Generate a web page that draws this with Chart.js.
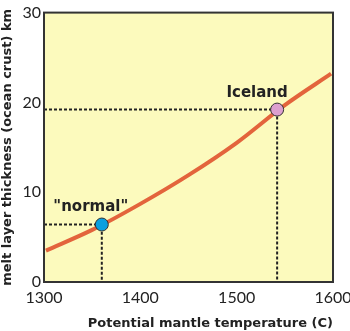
<!DOCTYPE html>
<html>
<head>
  <title>Melt thickness vs mantle temperature</title>
  <script src="https://cdn.jsdelivr.net/npm/chart.js@4.4.1/dist/chart.umd.min.js"></script>
  <style>
    * { margin: 0; padding: 0; box-sizing: border-box; }
    body { background: #ffffff; width: 350px; height: 331px; overflow: hidden; }
    .wrap { position: relative; width: 350px; height: 331px; }
  </style>
</head>
<body>
<div class="wrap">
  <canvas id="meltChart" width="350" height="331"></canvas>
</div>

<script>
  // curve: potential mantle temperature (C) vs melt thickness (km)
  const temps = [1302, 1350, 1400, 1450, 1500, 1550, 1598];
  const thickness = [3.5, 5.8, 8.7, 11.9, 15.5, 19.7, 23.2];

  // highlighted cases
  const caseNames = ['"normal"', 'Iceland'];
  const caseTemps = [1360, 1542];
  const caseThick = [6.4, 19.2];
  const caseColors = ['#0a9fe0', '#dc9fcf'];

  const xTicks = [1300, 1400, 1500, 1600];
  const yTicks = [0, 10, 20, 30];

  const FONT = 'Lato, "DejaVu Sans", sans-serif';
  const TITLE_FONT = '"DejaVu Sans", sans-serif';

  // dotted guide lines from the axes to each case
  const guideSets = caseNames.map((name, i) => ({
    type: 'line',
    order: 3,
    data: [
      { x: xTicks[0], y: caseThick[i] },
      { x: caseTemps[i], y: caseThick[i] },
      { x: caseTemps[i], y: yTicks[0] }
    ],
    borderColor: '#222',
    borderWidth: 2,
    borderDash: [3, 2],
    pointRadius: 0,
    fill: false,
    tension: 0
  }));

  const plotBackground = {
    id: 'plotBackground',
    beforeDraw(chart) {
      const { ctx, chartArea: a } = chart;
      ctx.save();
      ctx.fillStyle = '#fcfabd';
      ctx.fillRect(a.left, a.top, a.right - a.left, a.bottom - a.top);
      ctx.restore();
    },
    afterDraw(chart) {
      const { ctx, chartArea: a } = chart;
      ctx.save();
      ctx.strokeStyle = '#333';
      ctx.lineWidth = 2;
      ctx.strokeRect(a.left, a.top, a.right - a.left, a.bottom - a.top);
      ctx.restore();
    }
  };

  const caseLabels = {
    id: 'caseLabels',
    afterDatasetsDraw(chart) {
      const { ctx, scales } = chart;
      ctx.save();
      ctx.fillStyle = '#222';
      ctx.font = 'bold 15px ' + TITLE_FONT;
      ctx.textAlign = 'center';
      ctx.textBaseline = 'middle';
      const offs = [[-11, -17], [-20, -16]];
      caseNames.forEach((name, i) => {
        const px = scales.x.getPixelForValue(caseTemps[i]);
        const py = scales.y.getPixelForValue(caseThick[i]);
        ctx.fillText(name, px + offs[i][0], py + offs[i][1]);
      });
      ctx.restore();
    }
  };

  new Chart(document.getElementById('meltChart'), {
    type: 'line',
    data: {
      datasets: [
        ...guideSets,
        {
          type: 'line',
          order: 2,
          data: temps.map((t, i) => ({ x: t, y: thickness[i] })),
          borderColor: '#e3643c',
          borderWidth: 4,
          pointRadius: 0,
          cubicInterpolationMode: 'monotone',
          fill: false
        },
        {
          type: 'scatter',
          order: 1,
          data: caseTemps.map((t, i) => ({ x: t, y: caseThick[i] })),
          backgroundColor: caseColors,
          borderColor: '#333',
          borderWidth: 1,
          pointRadius: 6.5
        }
      ]
    },
    options: {
      responsive: false,
      animation: false,
      layout: { padding: { top: 2, right: 17, left: 0, bottom: 0 } },
      plugins: { legend: { display: false }, tooltip: { enabled: false } },
      scales: {
        x: {
          type: 'linear',
          min: 1300,
          max: 1600,
          grid: { display: false, drawTicks: false },
          border: { display: false },
          ticks: {
            stepSize: 100,
            padding: 6,
            color: '#222',
            font: { family: FONT, size: 16 },
            callback: v => String(v)
          },
          title: {
            display: true,
            align: 'end',
            text: 'Potential mantle temperature (C)',
            color: '#222',
            font: { family: TITLE_FONT, size: 13, weight: 'bold' },
            padding: { top: 7, bottom: 0 }
          },
          afterFit: s => { s.height = 49; s.paddingRight = 0; s.paddingLeft = 0; }
        },
        y: {
          min: 0,
          max: 30,
          grid: { display: false, drawTicks: false },
          border: { display: false },
          ticks: {
            stepSize: 10,
            padding: 3,
            color: '#222',
            font: { family: FONT, size: 16 }
          },
          title: {
            display: true,
            text: 'melt layer thickness (ocean crust) km',
            color: '#222',
            font: { family: TITLE_FONT, size: 13, weight: 'bold' },
            padding: { top: 0, bottom: 2 }
          },
          afterFit: s => { s.width = 44; }
        }
      }
    },
    plugins: [plotBackground, caseLabels]
  });
</script>
</body>
</html>
